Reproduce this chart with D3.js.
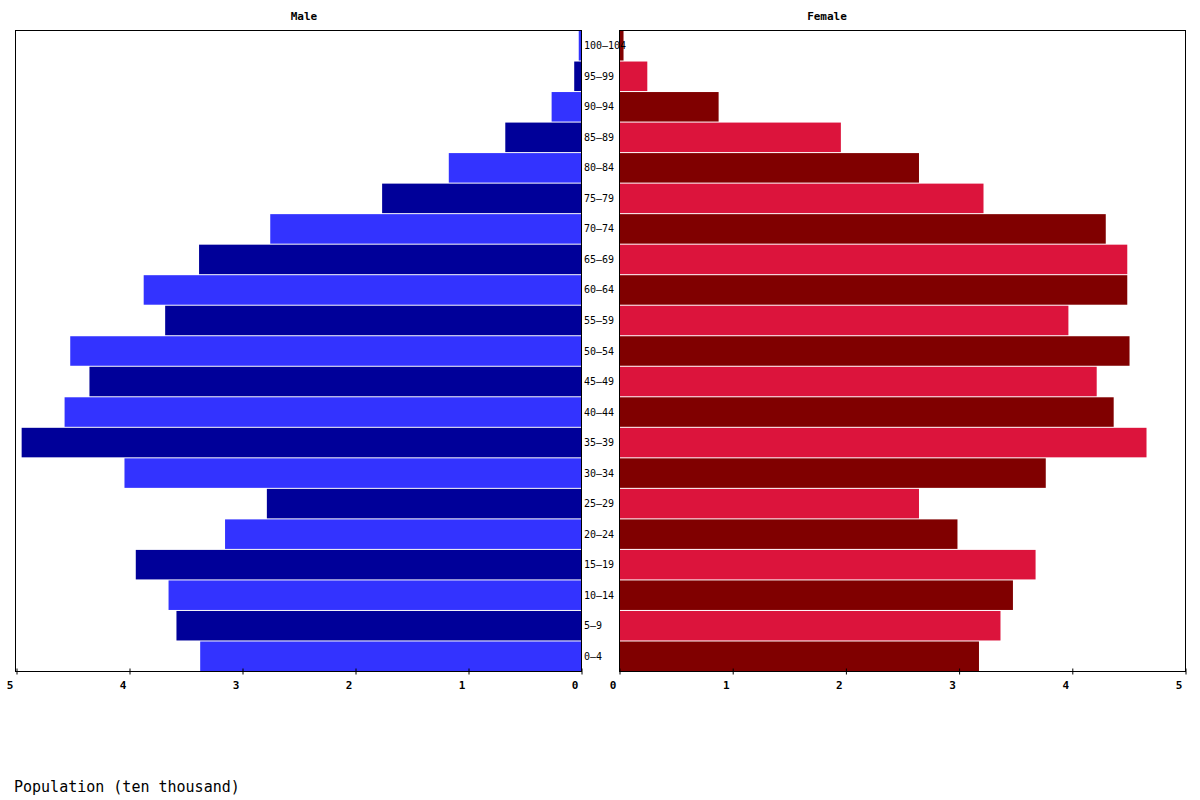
<!DOCTYPE html>
<html>
<head>
<meta charset="utf-8">
<script src="https://cdn.jsdelivr.net/npm/d3@7"></script>
<style>
  body { margin: 0; background: #fff; }
  text { font-family: "DejaVu Sans Mono", "Liberation Mono", monospace; }
</style>
</head>
<body>
<script>
const ages = ['0-4','5-9','10-14','15-19','20-24','25-29','30-34','35-39','40-44','45-49',
              '50-54','55-59','60-64','65-69','70-74','75-79','80-84','85-89','90-94','95-99','100-104'];
const male = [3.37,3.58,3.65,3.94,3.15,2.78,4.04,4.95,4.57,4.35,
              4.52,3.68,3.87,3.38,2.75,1.76,1.17,0.67,0.26,0.06,0.02];
const female = [3.18,3.37,3.48,3.68,2.99,2.65,3.77,4.66,4.37,4.22,
                4.51,3.97,4.49,4.49,4.30,3.22,2.65,1.96,0.88,0.25,0.04];
const ticks = [0,1,2,3,4,5];

const width = 1200;
const height = 800;

const svg = d3.select('body')
              .append('svg')
              .attr('width', width)
              .attr('height', height);

const plotTop = 30, plotBottom = 671;

const y = d3.scaleBand()
    .domain(ages.slice().reverse())
    .range([plotTop, plotBottom])
    .padding(0);

const xMale = d3.scaleLinear().domain([0, 5]).range([581, 16]);
const xFemale = d3.scaleLinear().domain([0, 5]).range([619, 1185]);

// bars
svg.append('g')
    .selectAll('rect')
    .data(ages)
    .join('rect')
        .attr('x', (d, i) => xMale(male[i]))
        .attr('y', d => y(d) + 1)
        .attr('width', (d, i) => xMale(0) - xMale(male[i]))
        .attr('height', y.bandwidth() - 1)
        .attr('fill', (d, i) => i % 2 === 0 ? '#3333ff' : '#000099');

svg.append('g')
    .selectAll('rect')
    .data(ages)
    .join('rect')
        .attr('x', xFemale(0))
        .attr('y', d => y(d) + 1)
        .attr('width', (d, i) => xFemale(female[i]) - xFemale(0))
        .attr('height', y.bandwidth() - 1)
        .attr('fill', (d, i) => i % 2 === 0 ? '#800000' : '#dc143c');

// frames
const frame = (x0, x1) => svg.append('rect')
    .attr('x', x0 + 0.5)
    .attr('y', plotTop + 0.5)
    .attr('width', x1 - x0)
    .attr('height', plotBottom - plotTop)
    .attr('fill', 'none')
    .attr('stroke', '#000')
    .attr('stroke-width', 1);
frame(15, 581);
frame(619, 1185);

// axes
const drawAxis = (scale) => {
    const g = svg.append('g')
        .attr('transform', `translate(0.5,${plotBottom + 0.5})`)
        .call(d3.axisBottom(scale).tickValues(ticks).tickSize(3).tickPadding(7).tickFormat(d3.format('d')));
    g.select('.domain').remove();
    g.selectAll('.tick line').attr('y1', -3).attr('y2', 3).attr('stroke', '#000');
    g.selectAll('.tick text')
        .attr('dx', -7)
        .attr('font-size', 11)
        .attr('font-weight', 'bold')
        .attr('fill', '#000')
        .style('font-family', '"DejaVu Sans Mono", monospace');
};
drawAxis(xMale);
drawAxis(xFemale);

// age labels
svg.append('g')
    .selectAll('text')
    .data(ages)
    .join('text')
        .attr('x', 584)
        .attr('y', d => y(d) + y.bandwidth() / 2 + 4)
        .attr('font-size', 10)
        .attr('fill', '#000')
        .text(d => d.replace('-', '\u2013'));

// titles
svg.append('text')
    .attr('x', 304).attr('y', 20)
    .attr('text-anchor', 'middle')
    .attr('font-size', 11).attr('font-weight', 'bold')
    .text('Male');
svg.append('text')
    .attr('x', 827).attr('y', 20)
    .attr('text-anchor', 'middle')
    .attr('font-size', 11).attr('font-weight', 'bold')
    .text('Female');

svg.append('text')
    .attr('x', 14).attr('y', 792)
    .attr('font-size', 15)
    .text('Population (ten thousand)');
</script>
</body>
</html>
